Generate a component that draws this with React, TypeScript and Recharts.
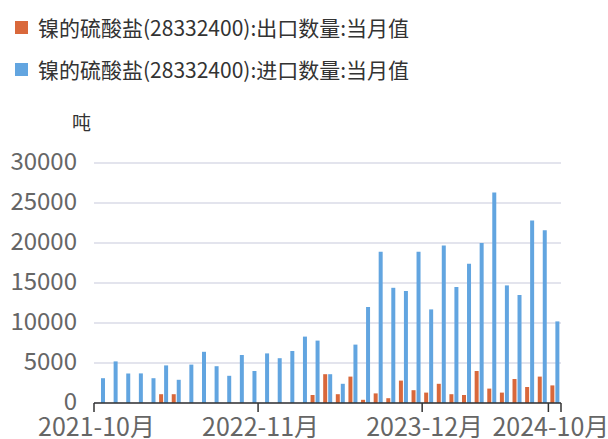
import React from 'react';
import { BarChart, Bar, XAxis, YAxis, CartesianGrid } from 'recharts';

const months = [
  '2021-10月', '2021-11月', '2021-12月', '2022-01月', '2022-02月', '2022-03月', '2022-04月', '2022-05月',
  '2022-06月', '2022-07月', '2022-08月', '2022-09月', '2022-10月', '2022-11月', '2022-12月', '2023-01月',
  '2023-02月', '2023-03月', '2023-04月', '2023-05月', '2023-06月', '2023-07月', '2023-08月', '2023-09月',
  '2023-10月', '2023-11月', '2023-12月', '2024-01月', '2024-02月', '2024-03月', '2024-04月', '2024-05月',
  '2024-06月', '2024-07月', '2024-08月', '2024-09月', '2024-10月',
];

const exportQty = [
  0, 0, 0, 0, 0, 1100, 1100, 0, 0, 0,
  0, 0, 0, 0, 0, 0, 0, 1000, 3600, 1100,
  3300, 400, 1200, 600, 2800, 1600, 1300, 2400, 1100, 1000,
  4000, 1800, 1300, 3000, 2000, 3300, 2200,
];

const importQty = [
  3100, 5200, 3700, 3700, 3100, 4700, 2900, 4800, 6400, 4600,
  3400, 6000, 4000, 6200, 5600, 6500, 8300, 7800, 3600, 2400,
  7300, 12000, 18900, 14400, 14000, 18900, 11700, 19700, 14500, 17400,
  20000, 26300, 14700, 13500, 22800, 21600, 10200,
];

const yTicks = [0, 5000, 10000, 15000, 20000, 25000, 30000];
const labelledMonths = ['2021-10月', '2022-11月', '2023-12月', '2024-10月'];
const seriesNames = [
  '镍的硫酸盐(28332400):出口数量:当月值',
  '镍的硫酸盐(28332400):进口数量:当月值',
];
const unitLabel = '吨';

const COLORS = { exp: '#D9683B', imp: '#62A5E0' };
const FONT = '"Noto Sans CJK SC", "Noto Sans", sans-serif';

const data = months.map((m, i) => ({ month: m, exp: exportQty[i], imp: importQty[i] }));

const XTick = (props: any) => {
  const { x, y, payload } = props;
  const half = payload && typeof payload.offset === 'number' ? payload.offset : 6.3;
  const left = x - half;
  const show = labelledMonths.includes(payload.value);
  const isLast = payload.value === months[months.length - 1];
  return (
    <g>
      {show && <line x1={left} x2={left} y1={y} y2={y + 9} stroke="#333" strokeWidth={1.5} />}
      {isLast && <line x1={x + half} x2={x + half} y1={y} y2={y + 9} stroke="#333" strokeWidth={1.5} />}
      {show && (
        <text x={left + 2.5} y={y + 24.5} dy="0.35em" textAnchor="middle" fill="#666" fontSize={25} fontFamily={FONT}>
          {payload.value}
        </text>
      )}
    </g>
  );
};

const YTick = (props: any) => {
  const { x, y, payload } = props;
  return (
    <text x={x} y={y - 1.5} dy="0.35em" textAnchor="end" fill="#666" fontSize={24} fontFamily={FONT}>
      {payload.value}
    </text>
  );
};

export default function App() {
  return (
    <div style={{ position: 'fixed', left: 0, top: 0, width: 608, height: 439, background: '#fff', fontFamily: FONT }}>
      {seriesNames.map((name, i) => (
        <div key={name} style={{ position: 'absolute', left: 15, top: 10 + i * 42, height: 34, display: 'flex', alignItems: 'center' }}>
          <div style={{ width: 13, height: 13, background: i === 0 ? COLORS.exp : COLORS.imp, marginRight: 10 }} />
          <span style={{ fontSize: 21, color: '#333', whiteSpace: 'nowrap' }}>{name}</span>
        </div>
      ))}
      <div style={{ position: 'absolute', left: 72, top: 108, fontSize: 19, color: '#333' }}>{unitLabel}</div>
      <div style={{ position: 'absolute', left: 0, top: 0 }}>
        <BarChart width={608} height={439} data={data} margin={{ top: 163, right: 47, bottom: 0, left: 0 }} barGap={1} barSize={4}>
          <CartesianGrid horizontal vertical={false} stroke="#dadbe7" strokeWidth={1.5} />
          <XAxis
            dataKey="month"
            height={36}
            interval={0}
            tickSize={0}
            tickMargin={0}
            tickLine={false}
            axisLine={{ stroke: '#333', strokeWidth: 1.5 }}
            tick={<XTick />}
          />
          <YAxis
            width={94}
            domain={[0, 30000]}
            ticks={yTicks}
            interval={0}
            axisLine={false}
            tickLine={false}
            tickSize={0}
            tickMargin={17}
            tick={<YTick />}
          />
          <Bar dataKey="exp" fill={COLORS.exp} isAnimationActive={false} />
          <Bar dataKey="imp" fill={COLORS.imp} isAnimationActive={false} />
        </BarChart>
      </div>
    </div>
  );
}
